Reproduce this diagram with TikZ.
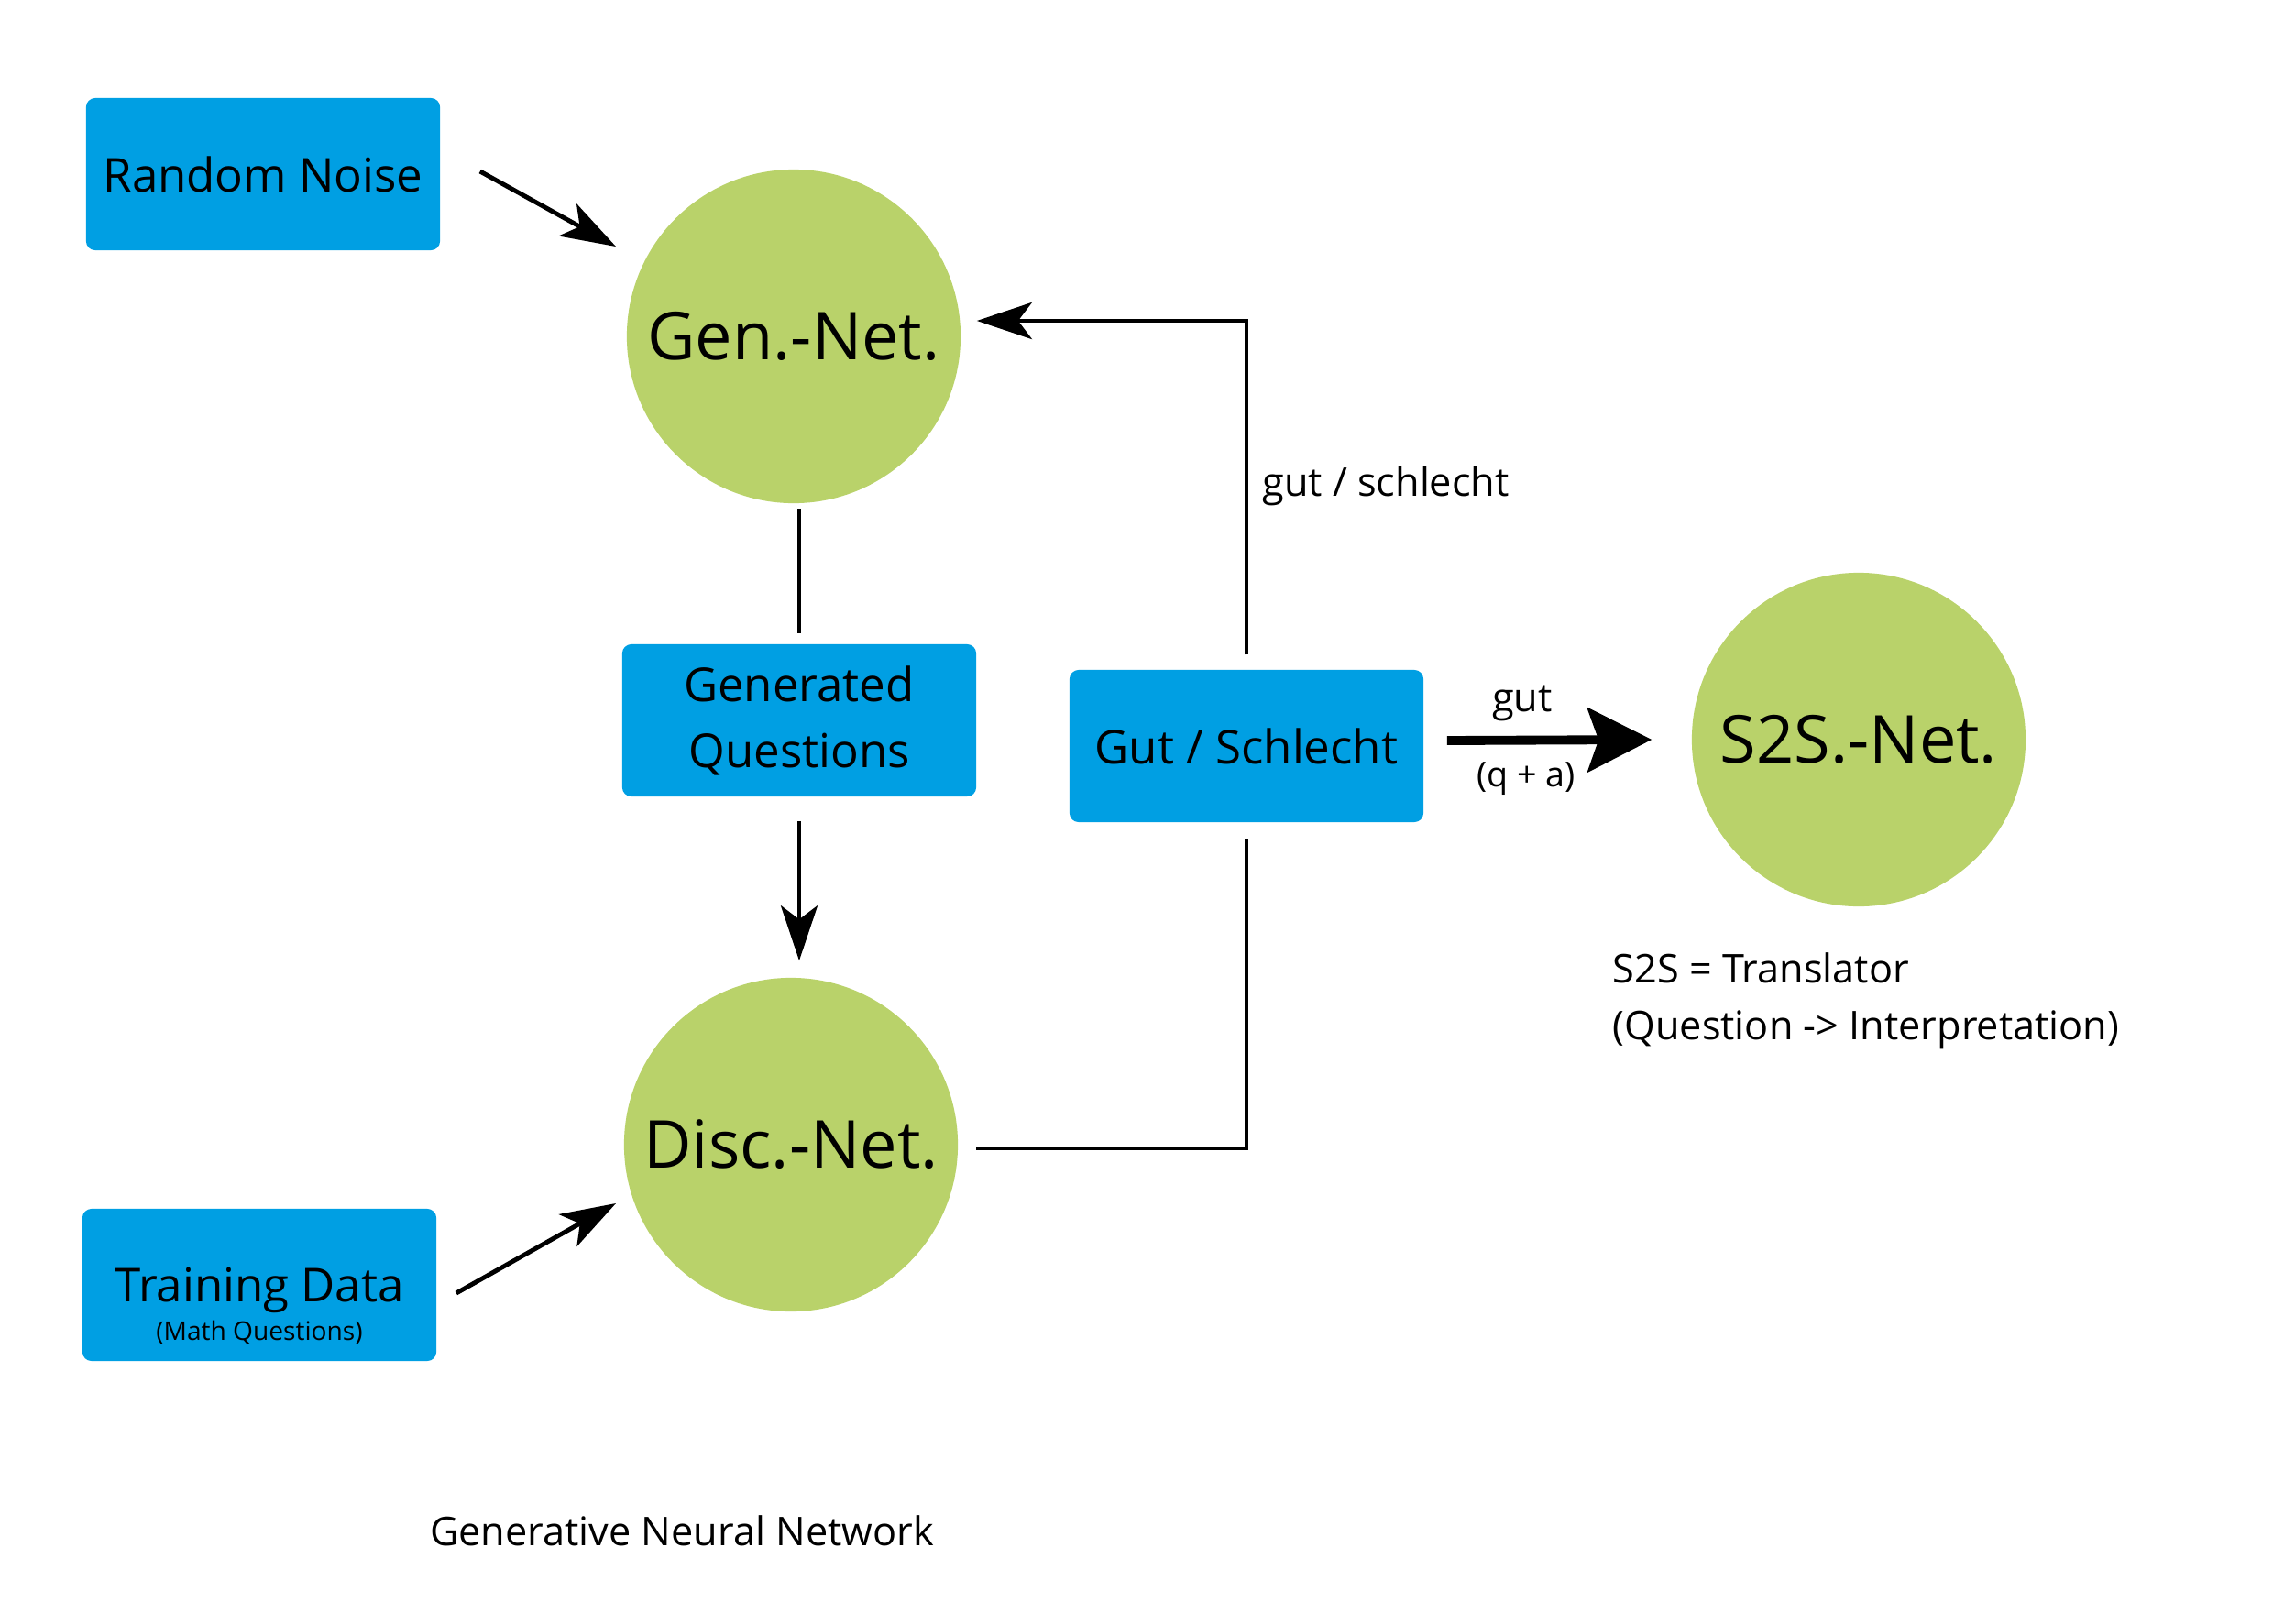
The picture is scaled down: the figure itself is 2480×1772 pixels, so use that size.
\documentclass[tikz,border=0pt]{standalone}
\usepackage{fontspec}
\setmainfont{Open Sans}
\usepackage{xcolor}
\usepackage{tikz}
\usetikzlibrary{positioning, arrows.meta, calc}
\definecolor{boxblue}{HTML}{009FE3}
\definecolor{netgreen}{HTML}{B9D26A}

\begin{document}
\begin{tikzpicture}[x=0.01cm, y=-0.01cm,
  box/.style={fill=boxblue, rounded corners=0.1cm, minimum width=3.86cm, minimum height=1.66cm, align=center, font=\fontsize{14.5}{20.5}\selectfont},
  net/.style={circle, fill=netgreen, inner sep=0pt, minimum size=3.64cm, font=\fontsize{20.5}{24}\selectfont},
  conn/.style={line width=1.4pt},
  arr/.style={line width=1.4pt, -{Stealth[length=0.6cm, width=0.4cm, inset=0.15cm]}},
  bigarr/.style={line width=2.8pt, -{Stealth[length=0.7cm, width=0.7cm, inset=0.12cm]}},
  lbl/.style={font=\fontsize{12.3}{17}\selectfont}]
\useasboundingbox (0,0) rectangle (2480,1772);

\node[net] (gen) at (866,367) {Gen.-Net.};
\node[net] (disc) at (863,1249) {Disc.-Net.};
\node[net] (s2s) at (2028,807) {S2S.-Net.};

\node[box] (rn) at (287,190) {Random Noise};
\node[box] (gq) at (872,786) {Generated\\Questions};
\node[box] (gs) at (1360,814) {Gut / Schlecht};
\node[box] (td) at (283,1402) {};
\node[font=\fontsize{14.5}{18}\selectfont] (tdtext) at (283,1408) {Training Data};
\node[font=\fontsize{8}{10}\selectfont] (tdsub) at (283,1454) {(Math Questions)};

\draw[arr] ($(rn.east)+(43,-3)$) -- ($(gen.center)+(-194,-98)$);
\draw[arr] ($(td.east)+(21,9)$) -- ($(disc.center)+(-191,64)$);
\draw[conn] ($(gen.south -| gq.north)+(0,5)$) -- ($(gq.north)+(0,-11)$);
\draw[arr] ($(gq.south)+(0,26)$) -- ($(disc.north -| gq.south)+(0,-18)$);
\draw[conn] ($(disc.east)+(19,4)$) -| ($(gs.south)+(0,17)$);
\draw[arr] ($(gs.north)+(0,-16)$) |- ($(gen.east)+(17,-17)$);
\draw[bigarr] ($(gs.east)+(25,-6)$) -- ($(s2s.west)+(-43,0)$);

\node[lbl] (gutschlecht) at (1512,530) {gut / schlecht};
\node[lbl] (gut) at (1661,767) {gut};
\node[font=\fontsize{10.7}{13}\selectfont] (qa) at (1665,850) {(q + a)};
\node[font=\fontsize{12.3}{17.5}\selectfont, align=left, anchor=west, inner sep=0pt] (s2sinfo) at (1759,1092) {S2S = Translator\\(Question -> Interpretation)};
\node[lbl] (title) at (744,1670) {Generative Neural Network};
\end{tikzpicture}
\end{document}
